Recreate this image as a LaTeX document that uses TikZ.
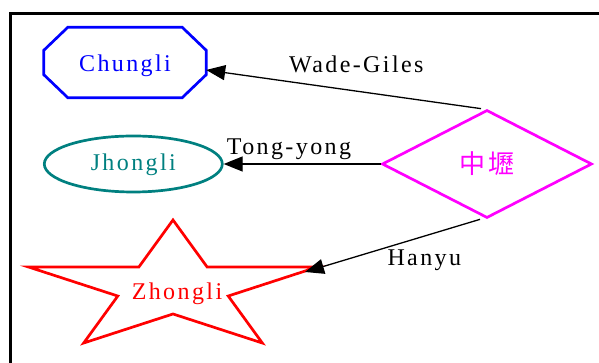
\documentclass[tikz,border=0pt]{standalone}
\usepackage{fontspec}
\setmainfont{Liberation Serif}[LetterSpace=10]
\newfontfamily\cjkfont{Noto Sans CJK TC}[LetterSpace=14]
\usepackage{xcolor}
\usepackage{tikz}
\usetikzlibrary{calc, shapes.geometric, arrows.meta}

\definecolor{gvblue}{RGB}{0,0,255}
\definecolor{gvteal}{RGB}{0,128,128}
\definecolor{gvred}{RGB}{255,0,0}
\definecolor{gvmagenta}{RGB}{255,0,255}

\begin{document}
\begin{tikzpicture}[x=1pt, y=1pt,
  every node/.style={font=\fontsize{24}{28}\selectfont, inner sep=0pt},
  outline/.style={draw, line width=2.7pt},
  arc/.style={draw, line width=1.3pt, -{Triangle[length=19pt, width=15pt]}},
  lbl/.style={anchor=base west}]

\clip (0,0) rectangle (599,363);
\path[draw, line width=3pt] (10.5,-20) -- (10.5,349.7) -- (620,349.7);

\node[gvblue, minimum width=162pt, minimum height=70pt, text height=24pt, text depth=5.6pt] (chungli) at (125,300.5) {Chungli};
% octagon with cut corners round the node
\path[outline, gvblue] ([xshift=24pt]chungli.north west) -- ([xshift=-24pt]chungli.north east)
  -- ([yshift=-23pt]chungli.north east) -- ([yshift=23pt]chungli.south east)
  -- ([xshift=-24pt]chungli.south east) -- ([xshift=24pt]chungli.south west)
  -- ([yshift=23pt]chungli.south west) -- ([yshift=-23pt]chungli.north west) -- cycle;

\node[outline, gvteal, ellipse, minimum width=178pt, minimum height=56pt,
  text height=19pt, text depth=5.6pt] (jhongli) at (133.3,199) {Jhongli};
\node[outline, gvmagenta, diamond, minimum width=210pt, minimum height=108pt] (hanzi) at (487,199)
  {\cjkfont\fontsize{26}{30}\selectfont 中壢};

% the star is scaled out sideways
\begin{scope}[shift={(173,75)}, xscale=2.235]
\node[outline, gvred, star, star points=5, star point ratio=2.618, minimum size=136pt, transform shape] (zhongli) at (0,0) {};
\end{scope}
\node[gvred, anchor=base] (zhonglitext) at (177,63) {Zhongli};

\path[arc] ([xshift=-6pt]hanzi.north) -- ([yshift=-7.5pt]chungli.east);
\path[arc] (hanzi.west) -- (jhongli.east);
\path[arc] ([xshift=-7pt]hanzi.south) -- ($(zhongli.center)+(132,16)$);

\node[lbl] (wadegiles) at (289,290.7) {Wade-Giles};
\node[lbl] (tongyong) at (226.7,208) {Tong-yong};
\node[lbl] (hanyu) at (387.3,97) {Hanyu};

\end{tikzpicture}
\end{document}
